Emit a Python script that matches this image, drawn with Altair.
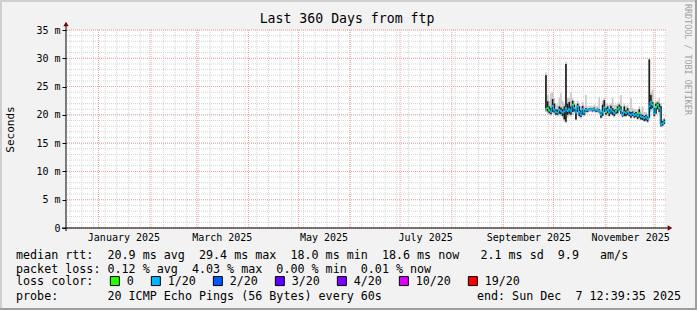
import altair as alt
import pandas as pd

MONO = "DejaVu Sans Mono"

# ---------------- data ----------------
first_day = "2025-09-26"
median_ms = [21.0, 21.2, 20.8, 20.5, 21.6, 20.9, 20.5, 20.4, 20.9, 20.7,
             20.4, 20.6, 21.2, 20.7, 21.0, 20.6, 21.8, 21.2, 20.4, 21.5,
             20.5, 20.0, 21.0, 20.4, 20.9, 20.8, 21.0, 21.0, 20.9, 21.0,
             20.8, 20.9, 20.7, 20.0, 20.5, 21.3, 20.5, 20.9, 20.4, 21.0,
             20.6, 20.3, 20.7, 21.0, 21.3, 20.8, 20.0, 20.5, 20.3, 20.6,
             20.2, 20.0, 20.2, 19.9, 20.1, 19.8, 20.3, 19.7, 19.6, 19.4,
             19.6, 19.3, 21.5, 22.3, 21.8, 20.2, 21.4, 21.8, 21.2, 18.3,
             18.5, 18.8]
dark_lo = [20.8, 20.6, 20.3, 20.1, 20.5, 20.4, 20.0, 20.0, 20.2, 20.1,
           19.8, 19.2, 18.8, 20.0, 20.2, 20.0, 20.5, 20.6, 19.2, 20.5,
           19.8, 19.6, 20.0, 20.0, 20.5, 20.5, 20.8, 20.8, 20.6, 20.7,
           20.5, 20.6, 20.4, 19.5, 19.8, 20.5, 20.0, 20.3, 19.8, 20.2,
           20.0, 19.8, 20.2, 20.3, 20.8, 20.2, 19.7, 19.8, 19.8, 20.0,
           19.8, 19.5, 19.8, 19.5, 19.6, 19.3, 19.5, 19.2, 19.1, 18.9,
           19.0, 18.8, 19.5, 21.0, 21.2, 19.8, 20.2, 21.0, 20.5, 18.0,
           18.1, 18.4]
dark_hi = [27.0, 22.4, 21.5, 21.2, 22.8, 22.0, 21.0, 20.9, 21.5, 21.3,
           21.0, 21.5, 29.0, 22.0, 22.3, 21.5, 22.5, 21.8, 21.0, 22.0,
           21.5, 20.8, 21.6, 20.9, 21.2, 21.0, 21.2, 21.2, 21.1, 21.3,
           21.0, 21.1, 21.0, 20.5, 21.8, 22.6, 21.2, 21.5, 21.0, 21.6,
           21.2, 20.9, 21.0, 21.5, 21.8, 21.5, 20.5, 21.5, 20.8, 21.2,
           20.6, 20.5, 20.6, 20.3, 20.5, 20.2, 21.0, 20.1, 20.0, 19.8,
           20.0, 19.7, 29.8, 23.5, 22.3, 21.2, 22.0, 22.2, 22.0, 21.5,
           18.9, 19.2]
smoke_lo = [20.5, 20.2, 20.0, 19.9, 20.2, 20.0, 19.8, 19.7, 19.9, 19.8,
            19.5, 18.8, 18.5, 19.5, 19.8, 19.7, 20.0, 20.3, 19.0, 20.0,
            19.5, 19.3, 19.8, 19.7, 20.2, 20.3, 20.5, 20.5, 20.4, 20.5,
            20.3, 20.4, 20.2, 19.3, 19.5, 20.2, 19.8, 20.0, 19.6, 20.0,
            19.7, 19.5, 20.0, 20.0, 20.5, 20.0, 19.5, 19.6, 19.6, 19.8,
            19.6, 19.3, 19.6, 19.3, 19.4, 19.1, 19.2, 19.0, 19.0, 18.8,
            18.8, 18.6, 19.2, 20.5, 20.8, 19.5, 20.0, 20.8, 20.2, 17.8,
            17.9, 18.2]
smoke_hi = [27.5, 23.5, 22.5, 23.8, 24.0, 23.0, 22.0, 21.8, 23.0, 23.8,
            22.5, 22.0, 29.4, 23.0, 23.0, 24.0, 23.0, 22.5, 21.8, 22.5,
            22.0, 21.5, 22.2, 21.5, 23.5, 21.5, 21.6, 21.6, 21.5, 21.8,
            21.5, 21.6, 23.2, 21.0, 22.5, 23.0, 22.0, 22.0, 21.8, 22.0,
            23.0, 21.8, 21.8, 22.0, 22.2, 23.5, 21.0, 22.0, 21.5, 21.8,
            21.2, 23.0, 21.2, 21.0, 21.0, 20.8, 21.5, 20.6, 21.5, 20.5,
            20.5, 20.2, 30.0, 24.0, 24.5, 22.0, 22.5, 22.5, 23.0, 22.0,
            19.2, 19.5]
loss_of_day = ["1/20", "0", "0", "1/20", "1/20", "1/20", "1/20", "1/20", "1/20", "1/20",
               "1/20", "1/20", "1/20", "1/20", "1/20", "1/20", "0", "1/20", "1/20", "1/20",
               "1/20", "1/20", "1/20", "1/20", "1/20", "1/20", "1/20", "1/20", "1/20", "1/20",
               "1/20", "1/20", "1/20", "1/20", "1/20", "1/20", "0", "1/20", "1/20", "1/20",
               "1/20", "1/20", "0", "1/20", "0", "1/20", "1/20", "1/20", "1/20", "0",
               "1/20", "1/20", "1/20", "1/20", "1/20", "1/20", "0", "1/20", "1/20", "1/20",
               "1/20", "1/20", "1/20", "1/20", "0", "1/20", "0", "0", "1/20", "1/20",
               "1/20", "1/20"]

loss_labels = ["0", "1/20", "2/20", "3/20", "4/20", "10/20", "19/20"]
loss_colors = ["#26ff00", "#00b8ff", "#0059ff", "#5e00ff", "#7e00ff", "#dd00ff", "#ff0000"]

y_major = [0, 5, 10, 15, 20, 25, 30, 35]
y_minor = list(range(0, 36))
month_lines = ["2025-01-01", "2025-02-01", "2025-03-01", "2025-04-01", "2025-05-01",
               "2025-06-01", "2025-07-01", "2025-08-01", "2025-09-01", "2025-10-01",
               "2025-11-01", "2025-12-01"]
week_first, week_last = "2024-12-15", "2025-12-07"
x_label_dates = ["2025-01-16", "2025-03-16", "2025-05-16", "2025-07-16",
                 "2025-09-16", "2025-11-16"]

title_text = "Last 360 Days from ftp"
y_title = "Seconds"
line_rtt = "median rtt:  20.9 ms avg  29.4 ms max  18.0 ms min  18.6 ms now   2.1 ms sd  9.9   am/s"
line_loss = "packet loss: 0.12 % avg  4.03 % max  0.00 % min  0.01 % now"
line_probe = "probe:       20 ICMP Echo Pings (56 Bytes) every 60s"
line_end = "end: Sun Dec  7 12:39:35 2025"
watermark = "RRDTOOL / TOBI OETIKER"

# ---------------- tables ----------------
days = pd.date_range(first_day, periods=len(median_ms), freq="D")
df = pd.DataFrame({
    "t": days, "t2": days + pd.Timedelta(days=1),
    "median": median_ms, "dlo": dark_lo, "dhi": dark_hi,
    "slo": smoke_lo, "shi": smoke_hi, "loss": loss_of_day,
})
minor_y_df = pd.DataFrame({"v": y_minor})
major_y_df = pd.DataFrame({"v": y_major})
month_df = pd.DataFrame({"t": pd.to_datetime(month_lines)})
week_df = pd.DataFrame({"t": pd.date_range(week_first, week_last, freq="7D")})
one = pd.DataFrame({"k": [0]})

x_scale = alt.Scale(domain=[alt.DateTime(year=2024, month=12, date=12, hours=12, minutes=39, seconds=35),
                            alt.DateTime(year=2025, month=12, date=7, hours=12, minutes=39, seconds=35)])
y_scale = alt.Scale(domain=[0, 35], nice=False, zero=True)

W, H = 600, 198
PAD_L, PAD_T, PAD_R, PAD_B = 66, 30, 31, 82

x_axis = alt.Axis(
    values=[alt.DateTime(year=int(d[:4]), month=int(d[5:7]), date=int(d[8:])) for d in x_label_dates],
    format="%B %Y", grid=False, ticks=False, domain=False, labelFont=MONO,
    labelFontSize=10, labelColor="#000", labelPadding=4, title=None, labelFlush=False,
    labelOverlap=False)
y_axis = alt.Axis(
    values=y_major, labelExpr="datum.value == 0 ? '0' : datum.value + ' m'",
    grid=False, domain=False, ticks=True, tickSize=4, tickColor="#000",
    labelFont=MONO, labelFontSize=10, labelColor="#000", labelPadding=2,
    title=y_title, titleFont=MONO, titleFontSize=11, titleFontWeight="normal",
    titleColor="#000", titleX=-56, titleY=H / 2, titleAngle=270, titleBaseline="middle")

def X(f):
    return alt.X(f, type="temporal", scale=x_scale, axis=x_axis, title=None)

def Y(f):
    return alt.Y(f, type="quantitative", scale=y_scale, axis=y_axis, title=y_title)

minor_h = alt.Chart(minor_y_df).mark_rule(color="#d4d4d4", strokeDash=[1, 1], strokeWidth=1).encode(y=Y("v"))
minor_v = alt.Chart(week_df).mark_rule(color="#d4d4d4", strokeDash=[1, 1], strokeWidth=1).encode(x=X("t"))
major_h = alt.Chart(major_y_df).mark_rule(color="#f4a0a0", strokeDash=[1, 1], strokeWidth=1).encode(y=Y("v"))
major_v = alt.Chart(month_df).mark_rule(color="#f4a0a0", strokeDash=[1, 1], strokeWidth=1).encode(x=X("t"))

base = alt.Chart(df)
smoke = base.mark_rect(color="#c8c8c8").encode(x=X("t"), x2="t2:T", y=Y("slo"), y2="shi:Q")
dark = base.mark_rect(color="#1e1e1e").encode(x=X("t"), x2="t2:T", y=Y("dlo"), y2="dhi:Q")
med_line = base.mark_line(interpolate="step-after", color="#00b8ff", strokeWidth=1).encode(
    x=X("t"), y=Y("median"))
med_seg = base.transform_calculate(
    m0="datum.median - 0.17", m1="datum.median + 0.17"
).mark_rect().encode(
    x=X("t"), x2="t2:T", y=Y("m0"), y2="m1:Q",
    fill=alt.Fill("loss:N", scale=alt.Scale(domain=loss_labels, range=loss_colors),
                  legend=alt.Legend(
                      orient="none", legendX=-50, legendY=245, direction="horizontal",
                      title="loss color:", titleOrient="left", titleFont=MONO,
                      titleFontSize=11.7, titleFontWeight="normal", titleColor="#000",
                      titlePadding=15, labelFont=MONO, labelFontSize=11.7, labelColor="#000",
                      symbolType="square", symbolSize=81, symbolStrokeColor="#000",
                      symbolStrokeWidth=1, symbolOpacity=1, columnPadding=15, labelOffset=6)),
)

# axis lines, arrows, frame and texts
axis_x = alt.Chart(one).mark_rule(color="#000", strokeWidth=1).encode(
    x=alt.value(-4), x2=alt.value(W + 4), y=alt.value(H))
axis_y = alt.Chart(one).mark_rule(color="#000", strokeWidth=1).encode(
    x=alt.value(0), y=alt.value(H + 3), y2=alt.value(-5))
arrow_r = alt.Chart(one).mark_point(shape="triangle-right", filled=True, color="#7a0000", size=28, opacity=1).encode(
    x=alt.value(W + 4), y=alt.value(H))
arrow_u = alt.Chart(one).mark_point(shape="triangle-up", filled=True, color="#7a0000", size=28, opacity=1).encode(
    x=alt.value(0), y=alt.value(-6))

FULL_W = PAD_L + W + PAD_R
FULL_H = PAD_T + H + PAD_B

def frame(x0, x1, y0, y1, color):
    return alt.Chart(one).mark_rect(color=color).encode(
        x=alt.value(x0 - PAD_L), x2=alt.value(x1 - PAD_L),
        y=alt.value(y0 - PAD_T), y2=alt.value(y1 - PAD_T))

frames = [
    frame(0, FULL_W, 0, 2, "#cfcfcf"),
    frame(0, 2, 0, FULL_H, "#cfcfcf"),
    frame(0, FULL_W, FULL_H - 2, FULL_H, "#9e9e9e"),
    frame(FULL_W - 2, FULL_W, 0, FULL_H, "#9e9e9e"),
]

NB = "\u00a0"

def txt(s, x, y, size=11.7, align="left", color="#000", angle=0, baseline="middle"):
    kw = dict(text=s.replace(" ", NB), font=MONO, fontSize=size, align=align,
              baseline=baseline, color=color)
    if angle:
        kw["angle"] = angle
    return alt.Chart(one).mark_text(**kw).encode(x=alt.value(x), y=alt.value(y))

texts = [
    txt(title_text, 281, -11, size=13.2, align="center"),
    txt(line_rtt, -50, 224.5),
    txt(line_loss, -50, 238.5),
    txt(line_probe, -50, 266),
    txt(line_end, 615, 266, align="right"),
    txt(watermark, 622, -26, size=8.4, color="#a0a0a0", angle=90),
]

chart = alt.layer(minor_h, minor_v, major_h, major_v, smoke, dark, med_line, med_seg,
                  axis_x, axis_y, arrow_r, arrow_u, *frames, *texts).properties(
    width=W, height=H,
    autosize=alt.AutoSizeParams(type="none"),
    padding={"left": PAD_L, "top": PAD_T, "right": PAD_R, "bottom": PAD_B},
).configure(background="#f2f2f2").configure_view(fill="white", stroke=None)

chart.save("out.html", embed_options={"renderer": "svg", "actions": False})
